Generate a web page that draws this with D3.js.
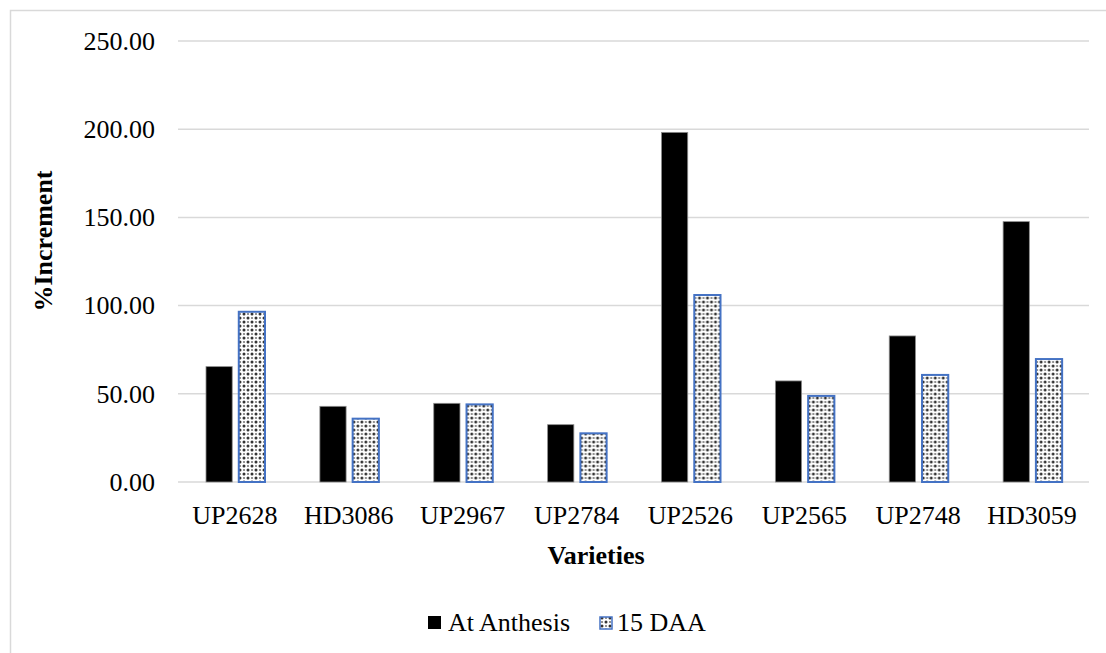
<!DOCTYPE html>
<html>
<head>
<meta charset="utf-8">
<script src="https://cdn.jsdelivr.net/npm/d3@7"></script>
<style>
  html, body { margin: 0; padding: 0; background: #fff; }
  svg { display: block; }
  text { font-family: "Liberation Serif", "Times New Roman", serif; fill: #000; }
</style>
</head>
<body>
<svg id="chart" width="1106" height="653"></svg>
<script>
const categories = ["UP2628", "HD3086", "UP2967", "UP2784", "UP2526", "UP2565", "UP2748", "HD3059"];
const seriesNames = ["At Anthesis", "15 DAA"];
const atAnthesis = [65.4, 42.9, 44.6, 32.5, 198.2, 57.3, 82.8, 147.6];
const daa15 = [96.5, 35.9, 44.0, 27.6, 106.0, 48.8, 60.7, 69.7];
const yTicks = [0, 50, 100, 150, 200, 250];

const svg = d3.select("#chart");
const W = 1106, H = 653;

// pattern
const defs = svg.append("defs");
const pat = defs.append("pattern").attr("id", "dots").attr("patternUnits", "userSpaceOnUse")
  .attr("width", 8).attr("height", 8);
pat.append("rect").attr("width", 8).attr("height", 8).attr("fill", "#fff");
[[2, 2], [6, 6], [6, 2], [2, 6]].forEach(([cx, cy], i) => {
  pat.append("circle").attr("cx", cx).attr("cy", cy).attr("r", i < 2 ? 1.5 : 1.1)
    .attr("fill", i < 2 ? "#333" : "#777");
});

// outer chart border
svg.append("rect").attr("x", 10.5).attr("y", 10.5).attr("width", W + 20).attr("height", H + 20)
  .attr("fill", "none").attr("stroke", "#d9d9d9").attr("stroke-width", 1.5);

const x0 = d3.scaleBand().domain(categories).range([178, 1089]).paddingInner(0).paddingOuter(0);
const x1 = d3.scaleBand().domain(seriesNames).range([28, 87]).paddingInner(0.2);
const y = d3.scaleLinear().domain([0, 250]).range([482, 41]);

// gridlines
svg.append("g").selectAll("line").data(yTicks).join("line")
  .attr("x1", 178).attr("x2", 1089)
  .attr("y1", d => y(d)).attr("y2", d => y(d))
  .attr("stroke", "#d9d9d9").attr("stroke-width", 1.5);

// y tick labels
const yAxis = d3.axisLeft(y).tickValues(yTicks).tickFormat(d3.format(".2f")).tickSize(0).tickPadding(0);
const gy = svg.append("g").attr("transform", "translate(155,0)").call(yAxis);
gy.select(".domain").remove();
gy.selectAll("text").attr("font-size", 26).attr("font-family", "Liberation Serif").attr("fill", "#000");

// bars
const data = categories.map((c, i) => ({ cat: c, vals: [atAnthesis[i], daa15[i]] }));
const groups = svg.append("g").selectAll("g").data(data).join("g")
  .attr("transform", d => `translate(${x0(d.cat)},0)`);
groups.selectAll("rect").data(d => d.vals.map((v, j) => ({ s: seriesNames[j], v })))
  .join("rect")
  .attr("x", d => x1(d.s))
  .attr("width", x1.bandwidth())
  .attr("y", d => y(d.v))
  .attr("height", d => y(0) - y(d.v))
  .attr("fill", d => d.s === seriesNames[0] ? "#000" : "url(#dots)")
  .attr("stroke", d => d.s === seriesNames[0] ? "#8c8c8c" : "#4472c4")
  .attr("stroke-width", d => d.s === seriesNames[0] ? 0.8 : 2);

// x tick labels
const xAxis = d3.axisBottom(x0).tickSize(0).tickPadding(0);
const gx = svg.append("g").attr("transform", "translate(0,524)").call(xAxis);
gx.select(".domain").remove();
gx.selectAll("text").attr("font-size", 26).attr("font-family", "Liberation Serif").attr("fill", "#000")
  .attr("dy", 0);

// axis titles
svg.append("text").attr("x", 596).attr("y", 564).attr("text-anchor", "middle")
  .attr("font-size", 26).attr("font-weight", "bold").text("Varieties");
svg.append("text").attr("transform", "translate(52,241) rotate(-90)").attr("text-anchor", "middle")
  .attr("font-size", 26).attr("font-weight", "bold").text("%Increment");

// legend
const leg = svg.append("g");
leg.append("rect").attr("x", 428).attr("y", 616).attr("width", 13).attr("height", 13).attr("fill", "#000");
leg.append("text").attr("x", 448).attr("y", 631).attr("font-size", 26).text(seriesNames[0]);
leg.append("rect").attr("x", 600).attr("y", 617).attr("width", 12).attr("height", 12)
  .attr("fill", "url(#dots)").attr("stroke", "#4472c4").attr("stroke-width", 1.5);
leg.append("text").attr("x", 617).attr("y", 631).attr("font-size", 26).text(seriesNames[1]);
</script>
</body>
</html>
